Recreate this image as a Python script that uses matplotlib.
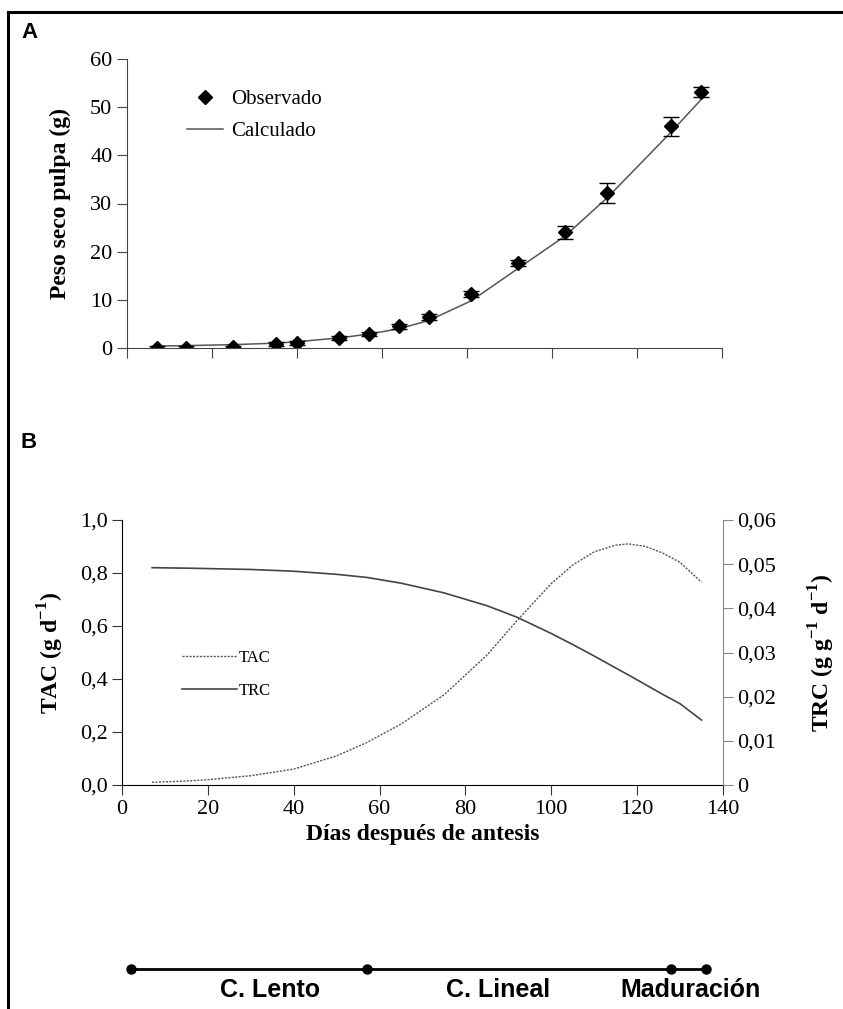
import matplotlib
matplotlib.use("Agg")
import matplotlib.pyplot as plt
from matplotlib.lines import Line2D
from matplotlib.ticker import FuncFormatter

# Panel A: observed dry weight of pulp and fitted curve
dias_obs = [7, 14, 25, 35, 40, 50, 57, 64, 71, 81, 92, 103, 113, 128, 135]
peso_obs = [0.1, 0.1, 0.2, 0.9, 1.0, 2.1, 2.9, 4.5, 6.5, 11.2, 17.7, 24.0, 32.2, 46.0, 53.2]
peso_err = [0.3, 0.3, 0.3, 0.4, 0.4, 0.4, 0.5, 0.5, 0.6, 0.6, 0.6, 1.3, 2.0, 2.0, 1.0]
peso_calc = [0.4, 0.5, 0.7, 1.0, 1.3, 2.1, 2.9, 4.0, 5.7, 9.8, 16.5, 23.2, 31.2, 44.8, 51.5]

# Panel B: absolute (TAC) and relative (TRC) growth rates
dias_b = [7, 15, 20, 30, 40, 50, 57, 65, 75, 85, 92, 100, 105, 110, 115, 118, 122, 126, 130, 135]
tac = [0.01, 0.015, 0.02, 0.035, 0.06, 0.11, 0.16, 0.23, 0.34, 0.49, 0.62, 0.76, 0.83, 0.88, 0.905,
       0.91, 0.90, 0.875, 0.84, 0.765]
trc = [0.0492, 0.0491, 0.0490, 0.0488, 0.0484, 0.0477, 0.0470, 0.0457, 0.0435, 0.0406, 0.0380, 0.0343,
       0.0318, 0.0292, 0.0265, 0.0249, 0.0227, 0.0205, 0.0184, 0.0147]

# Growth stages
etapas_lim = [2, 57, 128, 136]
etapas_nombre = ["C. Lento", "C. Lineal", "Maduración"]
etapas_pos = [34.5, 87.5, 132.5]

serif = "Liberation Serif"
W, H = 843, 1009
fig = plt.figure(figsize=(W / 100, H / 100), dpi=100)

# outer frame (top and left edges)
fig.add_artist(Line2D([8 / W, 1.0], [1 - 12 / H, 1 - 12 / H], color="black", lw=2.2))
fig.add_artist(Line2D([8 / W, 8 / W], [1 - 12 / H, 0.0], color="black", lw=2.2))
fig.text(21 / W, 1 - 33 / H, "A", fontsize=16, fontweight="bold", family="Liberation Sans", va="center")
fig.text(21 / W, 1 - 443 / H, "B", fontsize=16, fontweight="bold", family="Liberation Sans", va="center")

# ---- Panel A
ax = fig.add_axes([127 / W, 1 - 348 / H, 595 / W, 289 / H])
ax.plot(dias_obs, peso_calc, color="#555555", lw=1.1)
ax.errorbar(dias_obs, peso_obs, yerr=peso_err, fmt="D", color="black", ms=7,
            ecolor="black", elinewidth=1, capsize=6)
ax.set_xlim(0, 140)
ax.set_ylim(0, 60)
ax.set_xticks(range(0, 141, 20))
ax.set_xticklabels([])
ax.set_yticks(range(0, 61, 10))
for s in ["top", "right"]:
    ax.spines[s].set_visible(False)
for s in ["left", "bottom"]:
    ax.spines[s].set_color("#444444")
ax.tick_params(direction="out", length=7, color="#444444", labelsize=16)
for t in ax.get_yticklabels():
    t.set_family(serif)
ax.set_ylabel("Peso seco pulpa (g)", family=serif, fontweight="bold", fontsize=17, labelpad=14)
h_obs = Line2D([], [], ls="none", marker="D", color="black", ms=7)
h_calc = Line2D([], [], color="#555555", lw=1.1)
ax.legend([h_obs, h_calc], ["Observado", "Calculado"], loc="upper left", bbox_to_anchor=(0.07, 0.96),
          frameon=False, prop={"family": serif, "size": 15}, handlelength=1.7, handletextpad=0.4,
          labelspacing=0.6)

# ---- Panel B
comma = FuncFormatter(lambda v, p: f"{v:.1f}".replace(".", ","))
comma2 = FuncFormatter(lambda v, p: "0" if abs(v) < 1e-9 else f"{v:.2f}".replace(".", ","))
bx = fig.add_axes([122 / W, 1 - 785 / H, 601 / W, 265 / H])
l1, = bx.plot(dias_b, tac, color="#555555", lw=1.0, ls=(0, (1.5, 1)))
bx.set_xlim(0, 140)
bx.set_ylim(0, 1.0)
bx.set_xticks(range(0, 141, 20))
bx.set_yticks([0, 0.2, 0.4, 0.6, 0.8, 1.0])
bx.yaxis.set_major_formatter(comma)
bx.spines["top"].set_visible(False)
bx.spines["right"].set_visible(False)
bx.tick_params(direction="out", length=7, color="#333333", labelsize=16)
for t in bx.get_xticklabels() + bx.get_yticklabels():
    t.set_family(serif)
bx.set_ylabel("TAC (g d$^{\\mathregular{-1}}$)", family=serif, fontweight="bold", fontsize=17, labelpad=10)
bx.set_xlabel("Días después de antesis", family=serif, fontweight="bold", fontsize=17, labelpad=4)

rx = bx.twinx()
l2, = rx.plot(dias_b, trc, color="#444444", lw=1.2)
rx.set_ylim(0, 0.06)
rx.set_yticks([0, 0.01, 0.02, 0.03, 0.04, 0.05, 0.06])
rx.yaxis.set_major_formatter(comma2)
for s in ["top", "left", "bottom"]:
    rx.spines[s].set_visible(False)
rx.spines["right"].set_color("#888888")
rx.tick_params(direction="out", length=7, color="#888888", labelsize=16)
for t in rx.get_yticklabels():
    t.set_family(serif)
rx.set_ylabel("TRC (g g$^{\\mathregular{-1}}$ d$^{\\mathregular{-1}}$)", family=serif, fontweight="bold",
              fontsize=17, labelpad=22)
rx.yaxis.label.set_rotation(90)
bx.legend([l1, l2], ["TAC", "TRC"], loc="upper left", bbox_to_anchor=(0.075, 0.565), frameon=False,
          prop={"family": serif, "size": 12}, handlelength=3.3, handletextpad=0.1, labelspacing=1.0)

# ---- Stage timeline
tx = fig.add_axes([122 / W, 1 - 1005 / H, 601 / W, 50 / H])
tx.set_xlim(0, 140)
tx.set_ylim(0, 1)
tx.axis("off")
tx.plot(etapas_lim, [0.72] * len(etapas_lim), color="black", lw=2, marker="o", ms=6.5, clip_on=False)
for nombre, pos in zip(etapas_nombre, etapas_pos):
    tx.text(pos, 0.3, nombre, ha="center", va="center", fontsize=18, fontweight="bold",
            family="Liberation Sans")

fig.savefig("out.png", dpi=100)
